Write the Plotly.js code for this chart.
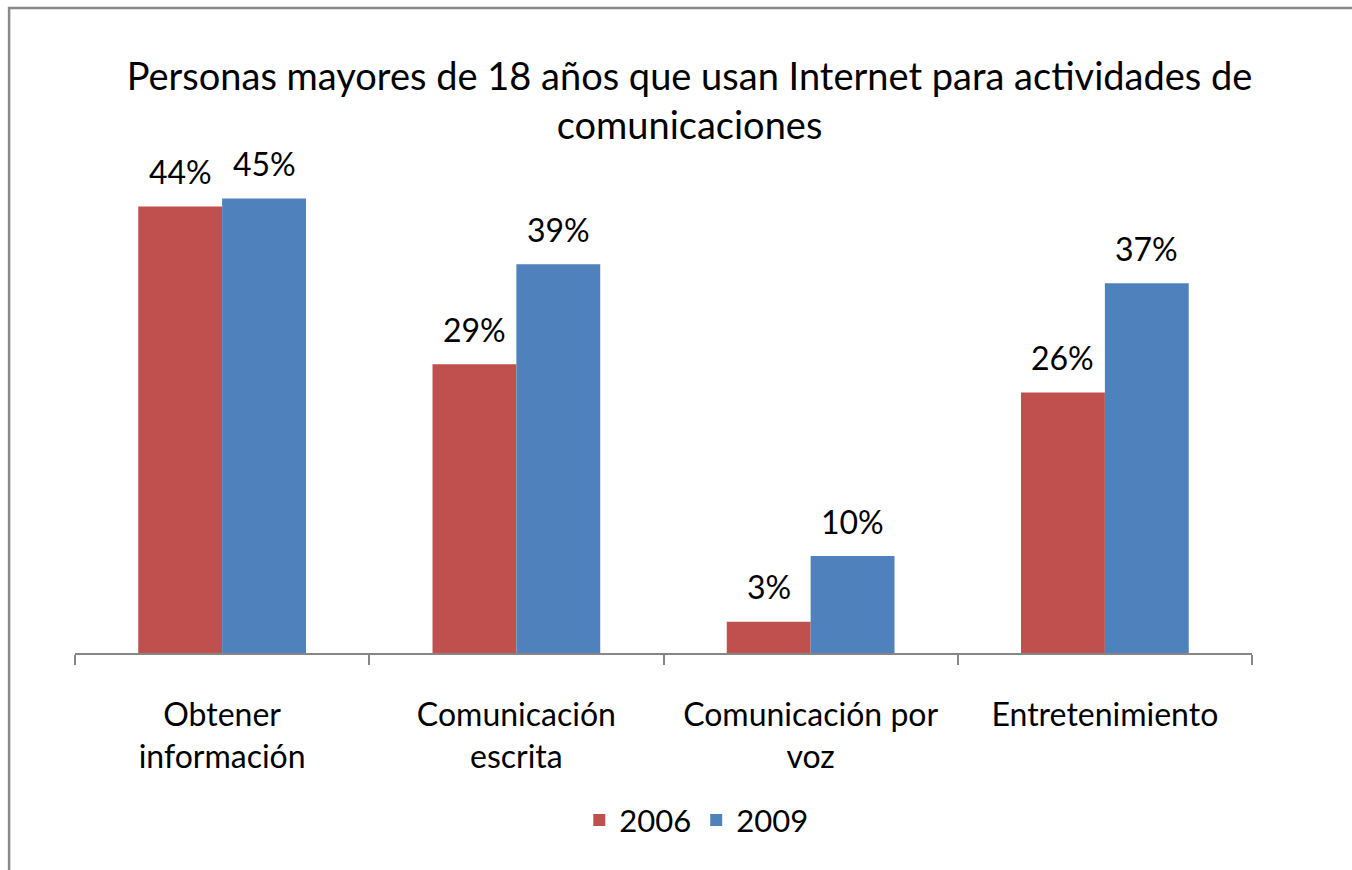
<!DOCTYPE html>
<html>
<head>
<meta charset="utf-8">
<script src="https://cdn.plot.ly/plotly-3.0.1.min.js"></script>
<style>
  body { margin: 0; background: #fff; }
  #chart { width: 1352px; height: 870px; }
</style>
</head>
<body>
<div id="chart"></div>
<script>
const categories = [
  'Obtener<br>información',
  'Comunicación<br>escrita',
  'Comunicación por<br>voz',
  'Entretenimiento'
];
const years = ['2006', '2009'];
const values2006 = [44.2, 28.6, 3.1, 25.8];
const values2009 = [45.0, 38.5, 9.6, 36.6];
const colors = ['#C0504D', '#4F81BD'];

const font = 'Lato, "Open Sans", sans-serif';

const traces = [values2006, values2009].map((vals, i) => ({
  type: 'bar',
  name: years[i],
  x: categories,
  y: vals,
  marker: { color: colors[i] },
  hoverinfo: 'skip'
}));

// data labels above the bars, offset left/right within each group
const bargap = 0.43;
const half = (1 - bargap) / 4;
const labels = [];
[values2006, values2009].forEach((vals, i) => {
  vals.forEach((v, j) => {
    labels.push({
      x: j + (i === 0 ? -half : half),
      y: v,
      xref: 'x', yref: 'y',
      text: Math.round(v) + '%',
      showarrow: false,
      yanchor: 'middle',
      yshift: 35,
      font: { family: font, size: 32, color: '#000' }
    });
  });
});

const layout = {
  width: 1352,
  height: 870,
  margin: { l: 75, r: 100, t: 148, b: 217 },
  paper_bgcolor: '#fff',
  plot_bgcolor: '#fff',
  font: { family: font, color: '#000' },
  title: {
    text: 'Personas mayores de 18 años que usan Internet para actividades de<br>comunicaciones',
    font: { family: font, size: 38, color: '#000' },
    x: 0.51, xanchor: 'center',
    y: 0.897, yanchor: 'middle'
  },
  barmode: 'group',
  bargap: bargap,
  bargroupgap: 0,
  xaxis: {
    type: 'category',
    showline: true,
    linecolor: '#868686',
    linewidth: 2,
    ticks: 'outside',
    tickson: 'boundaries',
    ticklen: 10,
    tickwidth: 2,
    tickcolor: '#868686',
    ticklabelstandoff: 33,
    tickfont: { family: font, size: 32, color: '#000' },
    showgrid: false,
    zeroline: false
  },
  yaxis: {
    visible: false,
    range: [0, 50],
    showgrid: false,
    zeroline: false
  },
  showlegend: true,
  legend: {
    orientation: 'h',
    xref: 'container', yref: 'container',
    x: 0.515, xanchor: 'center',
    y: 0.057, yanchor: 'middle',
    font: { family: font, size: 31, color: '#000' },
    itemwidth: 30
  },
  annotations: labels,
  shapes: [{
    type: 'rect',
    xref: 'paper', yref: 'paper',
    x0: -0.056, x1: 1.2, y0: -0.6, y1: 1.277,
    line: { color: '#898989', width: 2.5 },
    fillcolor: 'rgba(0,0,0,0)',
    layer: 'above'
  }]
};

Plotly.newPlot('chart', traces, layout, { displayModeBar: false, staticPlot: true });
</script>
</body>
</html>
